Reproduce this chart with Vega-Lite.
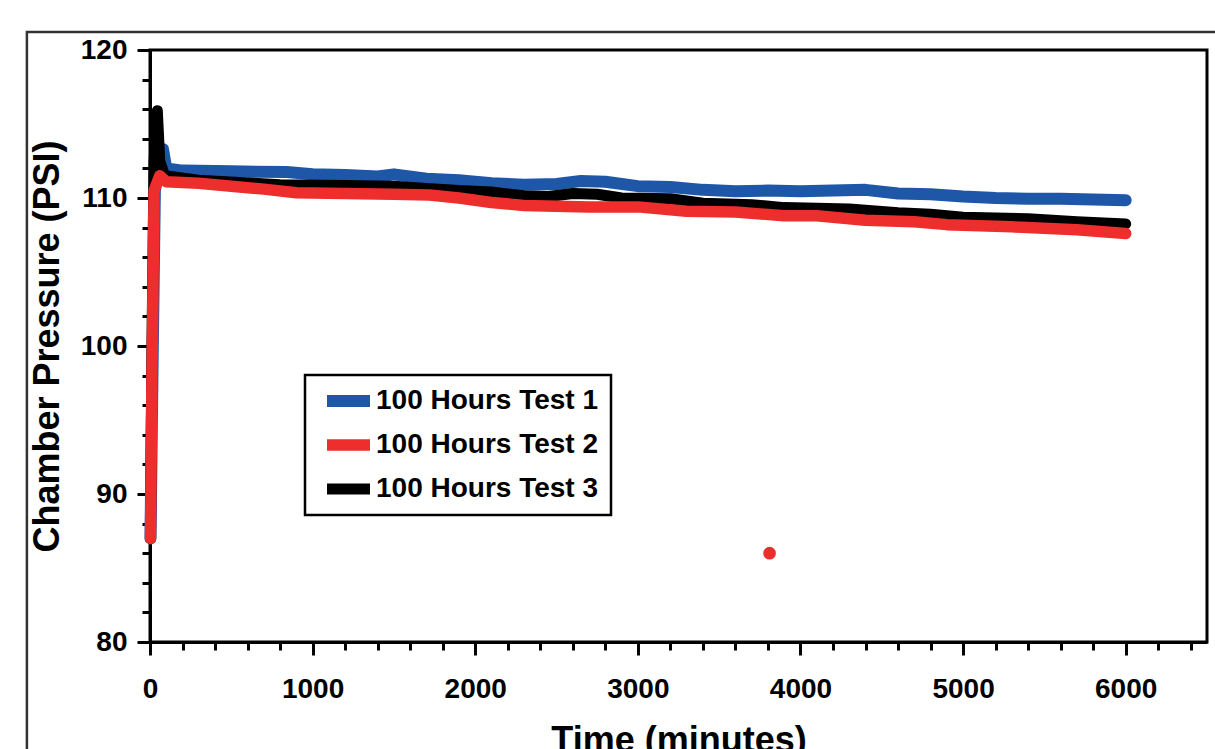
{
  "$schema": "https://vega.github.io/schema/vega-lite/v6.json",
  "width": 1057,
  "height": 592,
  "autosize": {"type": "none"},
  "padding": {"left": 150, "top": 50, "right": 8, "bottom": 107},
  "background": "white",
  "datasets": {
    "lines": [
      {"t": 3, "p": 87.0, "s": "100 Hours Test 1"},
      {"t": 15, "p": 98.0, "s": "100 Hours Test 1"},
      {"t": 30, "p": 110.5, "s": "100 Hours Test 1"},
      {"t": 50, "p": 111.8, "s": "100 Hours Test 1"},
      {"t": 80, "p": 113.3, "s": "100 Hours Test 1"},
      {"t": 100, "p": 112.0, "s": "100 Hours Test 1"},
      {"t": 200, "p": 111.85, "s": "100 Hours Test 1"},
      {"t": 500, "p": 111.8, "s": "100 Hours Test 1"},
      {"t": 840, "p": 111.75, "s": "100 Hours Test 1"},
      {"t": 1000, "p": 111.6, "s": "100 Hours Test 1"},
      {"t": 1200, "p": 111.55, "s": "100 Hours Test 1"},
      {"t": 1400, "p": 111.45, "s": "100 Hours Test 1"},
      {"t": 1500, "p": 111.6, "s": "100 Hours Test 1"},
      {"t": 1700, "p": 111.3, "s": "100 Hours Test 1"},
      {"t": 1900, "p": 111.2, "s": "100 Hours Test 1"},
      {"t": 2100, "p": 111.0, "s": "100 Hours Test 1"},
      {"t": 2300, "p": 110.9, "s": "100 Hours Test 1"},
      {"t": 2500, "p": 110.95, "s": "100 Hours Test 1"},
      {"t": 2650, "p": 111.15, "s": "100 Hours Test 1"},
      {"t": 2800, "p": 111.1, "s": "100 Hours Test 1"},
      {"t": 3000, "p": 110.8, "s": "100 Hours Test 1"},
      {"t": 3200, "p": 110.75, "s": "100 Hours Test 1"},
      {"t": 3400, "p": 110.55, "s": "100 Hours Test 1"},
      {"t": 3600, "p": 110.45, "s": "100 Hours Test 1"},
      {"t": 3800, "p": 110.5, "s": "100 Hours Test 1"},
      {"t": 4000, "p": 110.45, "s": "100 Hours Test 1"},
      {"t": 4200, "p": 110.5, "s": "100 Hours Test 1"},
      {"t": 4400, "p": 110.55, "s": "100 Hours Test 1"},
      {"t": 4600, "p": 110.3, "s": "100 Hours Test 1"},
      {"t": 4800, "p": 110.25, "s": "100 Hours Test 1"},
      {"t": 5000, "p": 110.1, "s": "100 Hours Test 1"},
      {"t": 5200, "p": 110.0, "s": "100 Hours Test 1"},
      {"t": 5400, "p": 109.95, "s": "100 Hours Test 1"},
      {"t": 5600, "p": 109.95, "s": "100 Hours Test 1"},
      {"t": 5800, "p": 109.9, "s": "100 Hours Test 1"},
      {"t": 6000, "p": 109.85, "s": "100 Hours Test 1"},

      {"t": 3, "p": 87.0, "s": "100 Hours Test 3"},
      {"t": 12, "p": 100.0, "s": "100 Hours Test 3"},
      {"t": 25, "p": 112.5, "s": "100 Hours Test 3"},
      {"t": 45, "p": 115.9, "s": "100 Hours Test 3"},
      {"t": 60, "p": 112.5, "s": "100 Hours Test 3"},
      {"t": 90, "p": 111.5, "s": "100 Hours Test 3"},
      {"t": 300, "p": 111.2, "s": "100 Hours Test 3"},
      {"t": 550, "p": 111.05, "s": "100 Hours Test 3"},
      {"t": 800, "p": 110.9, "s": "100 Hours Test 3"},
      {"t": 1200, "p": 110.85, "s": "100 Hours Test 3"},
      {"t": 1500, "p": 110.8, "s": "100 Hours Test 3"},
      {"t": 1700, "p": 110.65, "s": "100 Hours Test 3"},
      {"t": 1900, "p": 110.5, "s": "100 Hours Test 3"},
      {"t": 2100, "p": 110.4, "s": "100 Hours Test 3"},
      {"t": 2300, "p": 110.15, "s": "100 Hours Test 3"},
      {"t": 2450, "p": 110.1, "s": "100 Hours Test 3"},
      {"t": 2600, "p": 110.3, "s": "100 Hours Test 3"},
      {"t": 2750, "p": 110.25, "s": "100 Hours Test 3"},
      {"t": 2900, "p": 110.0, "s": "100 Hours Test 3"},
      {"t": 3200, "p": 109.95, "s": "100 Hours Test 3"},
      {"t": 3400, "p": 109.65, "s": "100 Hours Test 3"},
      {"t": 3700, "p": 109.55, "s": "100 Hours Test 3"},
      {"t": 3900, "p": 109.35, "s": "100 Hours Test 3"},
      {"t": 4300, "p": 109.25, "s": "100 Hours Test 3"},
      {"t": 4600, "p": 109.0, "s": "100 Hours Test 3"},
      {"t": 4800, "p": 108.9, "s": "100 Hours Test 3"},
      {"t": 5000, "p": 108.7, "s": "100 Hours Test 3"},
      {"t": 5400, "p": 108.6, "s": "100 Hours Test 3"},
      {"t": 5700, "p": 108.4, "s": "100 Hours Test 3"},
      {"t": 6000, "p": 108.25, "s": "100 Hours Test 3"},

      {"t": 3, "p": 87.0, "s": "100 Hours Test 2"},
      {"t": 12, "p": 98.0, "s": "100 Hours Test 2"},
      {"t": 25, "p": 110.5, "s": "100 Hours Test 2"},
      {"t": 60, "p": 111.5, "s": "100 Hours Test 2"},
      {"t": 100, "p": 111.1, "s": "100 Hours Test 2"},
      {"t": 300, "p": 111.0, "s": "100 Hours Test 2"},
      {"t": 500, "p": 110.8, "s": "100 Hours Test 2"},
      {"t": 700, "p": 110.6, "s": "100 Hours Test 2"},
      {"t": 900, "p": 110.35, "s": "100 Hours Test 2"},
      {"t": 1200, "p": 110.3, "s": "100 Hours Test 2"},
      {"t": 1500, "p": 110.25, "s": "100 Hours Test 2"},
      {"t": 1720, "p": 110.2, "s": "100 Hours Test 2"},
      {"t": 1900, "p": 110.0, "s": "100 Hours Test 2"},
      {"t": 2100, "p": 109.7, "s": "100 Hours Test 2"},
      {"t": 2300, "p": 109.5, "s": "100 Hours Test 2"},
      {"t": 2700, "p": 109.4, "s": "100 Hours Test 2"},
      {"t": 3000, "p": 109.4, "s": "100 Hours Test 2"},
      {"t": 3300, "p": 109.1, "s": "100 Hours Test 2"},
      {"t": 3600, "p": 109.05, "s": "100 Hours Test 2"},
      {"t": 3900, "p": 108.8, "s": "100 Hours Test 2"},
      {"t": 4100, "p": 108.8, "s": "100 Hours Test 2"},
      {"t": 4400, "p": 108.5, "s": "100 Hours Test 2"},
      {"t": 4700, "p": 108.4, "s": "100 Hours Test 2"},
      {"t": 4900, "p": 108.2, "s": "100 Hours Test 2"},
      {"t": 5300, "p": 108.05, "s": "100 Hours Test 2"},
      {"t": 5700, "p": 107.85, "s": "100 Hours Test 2"},
      {"t": 6000, "p": 107.6, "s": "100 Hours Test 2"}
    ],
    "outlier": [
      {"t": 3810, "p": 86.0, "s": "100 Hours Test 2"}
    ]
  },
  "layer": [
    {
      "data": {"values": [{}]},
      "mark": {"type": "rect", "fill": null, "fillOpacity": 0, "stroke": "#333333", "strokeWidth": 2.5, "clip": false},
      "encoding": {
        "x": {"datum": -757, "type": "quantitative"},
        "x2": {"datum": 8000},
        "y": {"datum": 121.22, "type": "quantitative"},
        "y2": {"datum": 60}
      }
    },
    {
      "data": {"name": "lines"},
      "mark": {"type": "line", "strokeCap": "round", "strokeJoin": "round"},
      "encoding": {
        "x": {
          "field": "t", "type": "quantitative",
          "scale": {"domain": [0, 6500], "nice": false, "zero": false},
          "axis": {
            "title": "Time (minutes)",
            "values": [0,200,400,600,800,1000,1200,1400,1600,1800,2000,2200,2400,2600,2800,3000,3200,3400,3600,3800,4000,4200,4400,4600,4800,5000,5200,5400,5600,5800,6000,6200,6400],
            "tickCount": 200,
            "format": "d",
            "labelOverlap": false,
            "labelFlush": false,
            "labelExpr": "datum.value % 1000 === 0 ? datum.label : ''",
            "tickSize": {"condition": {"test": "datum.value % 1000 === 0", "value": 13}, "value": 8},
            "labelPadding": 20,
            "titlePadding": 20
          }
        },
        "y": {
          "field": "p", "type": "quantitative",
          "scale": {"domain": [80, 120], "nice": false, "zero": false},
          "axis": {
            "title": "Chamber Pressure (PSI)",
            "values": [80,82,84,86,88,90,92,94,96,98,100,102,104,106,108,110,112,114,116,118,120],
            "tickCount": 200,
            "format": "d",
            "labelOverlap": false,
            "labelFlush": false,
            "labelExpr": "datum.value % 10 === 0 ? datum.label : ''",
            "tickSize": {"condition": {"test": "datum.value % 10 === 0", "value": 13}, "value": 8},
            "labelPadding": 10,
            "titlePadding": 14
          }
        },
        "color": {
          "field": "s", "type": "nominal",
          "scale": {"domain": ["100 Hours Test 1", "100 Hours Test 2", "100 Hours Test 3"], "range": ["#1f57a8", "#ee2d2d", "#000000"]},
          "legend": {
            "title": null,
            "orient": "none",
            "legendX": 155,
            "legendY": 325,
            "symbolType": "M-0.6,0L3.7,0",
            "symbolSize": 400,
            "symbolStrokeWidth": 12,
            "labelOffset": 27,
            "labelLimit": 500,
            "clipHeight": 28,
            "rowPadding": 16,
            "padding": 12,
            "fillColor": "white",
            "strokeColor": "black"
          }
        },
        "strokeWidth": {
          "field": "s", "type": "nominal",
          "scale": {"domain": ["100 Hours Test 1", "100 Hours Test 2", "100 Hours Test 3"], "range": [12, 11, 7]},
          "legend": null
        }
      }
    },
    {
      "data": {"name": "outlier"},
      "mark": {"type": "circle", "color": "#ee2d2d", "size": 160, "opacity": 1},
      "encoding": {
        "x": {"field": "t", "type": "quantitative"},
        "y": {"field": "p", "type": "quantitative"}
      }
    }
  ],
  "config": {
    "font": "Liberation Sans",
    "view": {"stroke": "black", "strokeWidth": 3},
    "axis": {
      "grid": false,
      "domainColor": "black",
      "domainWidth": 3,
      "tickColor": "black",
      "tickWidth": 3,
      "labelFont": "Liberation Sans",
      "labelFontSize": 28,
      "labelFontWeight": "bold",
      "labelColor": "black",
      "titleFont": "Liberation Sans",
      "titleFontSize": 36,
      "titleFontWeight": "bold",
      "titleColor": "black"
    },
    "legend": {
      "labelFont": "Liberation Sans",
      "labelFontSize": 28,
      "labelFontWeight": "bold",
      "labelColor": "black",
      "strokeWidth": 2.5
    }
  }
}
